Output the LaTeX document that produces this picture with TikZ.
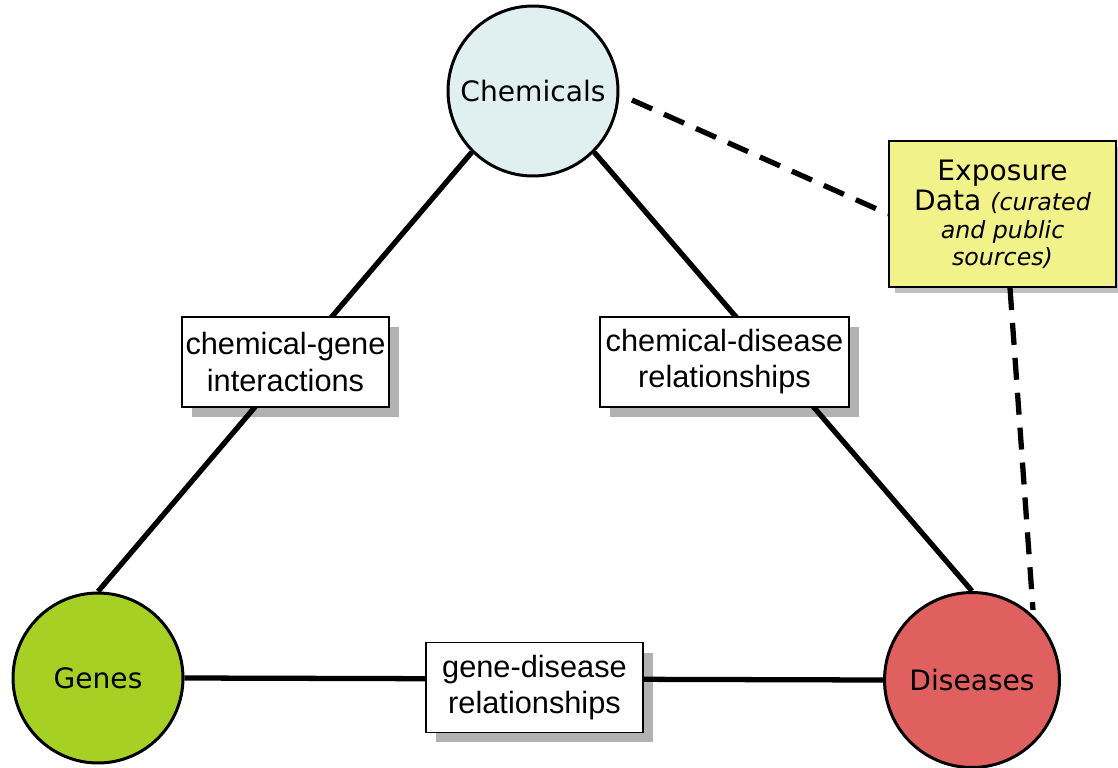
\documentclass[tikz,border=0pt]{standalone}
\usepackage{fontspec}
\setmainfont{DejaVu Sans}
\newfontfamily\boxfont{Liberation Sans}
\usetikzlibrary{shadows}

\definecolor{chemfill}{HTML}{E0F0F0}
\definecolor{genefill}{HTML}{A6D124}
\definecolor{disfill}{HTML}{E06060}
\definecolor{expofill}{HTML}{F2F28A}

\newcommand{\smallit}[1]{{\fontsize{13.5}{15}\selectfont\itshape #1}}

\begin{document}
\begin{tikzpicture}[x=0.02cm,y=-0.02cm,
    entity/.style={circle,draw,line width=1.7pt,minimum size=3.4cm,inner sep=0pt,
      font=\fontsize{16}{19}\selectfont},
    relbox/.style={draw,fill=white,line width=1.1pt,minimum height=1.8cm,inner sep=0pt,
      align=center,font=\boxfont\fontsize{17.5}{20.5}\selectfont,
      drop shadow={shadow xshift=0.2cm,shadow yshift=-0.2cm,fill=black,opacity=0.3}},
    link/.style={line width=3pt},
    dashlink/.style={line width=3pt,dash pattern=on 0.44cm off 0.26cm}]
  \useasboundingbox (0,0) rectangle (1118,767);

  % the three entities
  \node[entity,fill=chemfill] (chem) at (533,91) {Chemicals};
  \node[entity,fill=genefill] (genes) at (98,678) {Genes};
  \node[entity,fill=disfill,minimum size=3.5cm] (dis) at (972,680) {Diseases};

  % exposure data
  \node[draw,fill=expofill,line width=1.1pt,minimum width=4.54cm,minimum height=2.92cm,
    inner sep=0pt,align=center,font=\fontsize{16}{18.5}\selectfont,
    drop shadow={shadow xshift=0.12cm,shadow yshift=-0.12cm,fill=black,opacity=0.25}]
    (expo) at (1002.5,214)
    {Exposure\\[-1pt]Data \smallit{(curated}\\[-3pt]\smallit{and public}\\[-3pt]\smallit{sources)}};

  \coordinate (chemx) at (632,100);
  \coordinate (expox) at (1010,288);
  \coordinate (disx) at (1033,610);

  \draw[link] (chem.225) -- (genes.north);
  \draw[link] (chem.-45) -- (dis.north);
  \draw[link] (genes.east) -- (dis.west);
  \draw[dashlink] (chemx) -- (expo.west);
  \draw[dashlink] (expox) -- (disx);

  % relations
  \node[relbox,minimum width=4.14cm] (cg) at (285.5,362) {chemical-gene\\interactions};
  \node[relbox,minimum width=4.98cm] (cd) at (724.5,362) {chemical-disease\\relationships};
  \node[relbox,minimum width=4.34cm] (gd) at (534.5,687.5) {gene-disease\\relationships};
\end{tikzpicture}
\end{document}
